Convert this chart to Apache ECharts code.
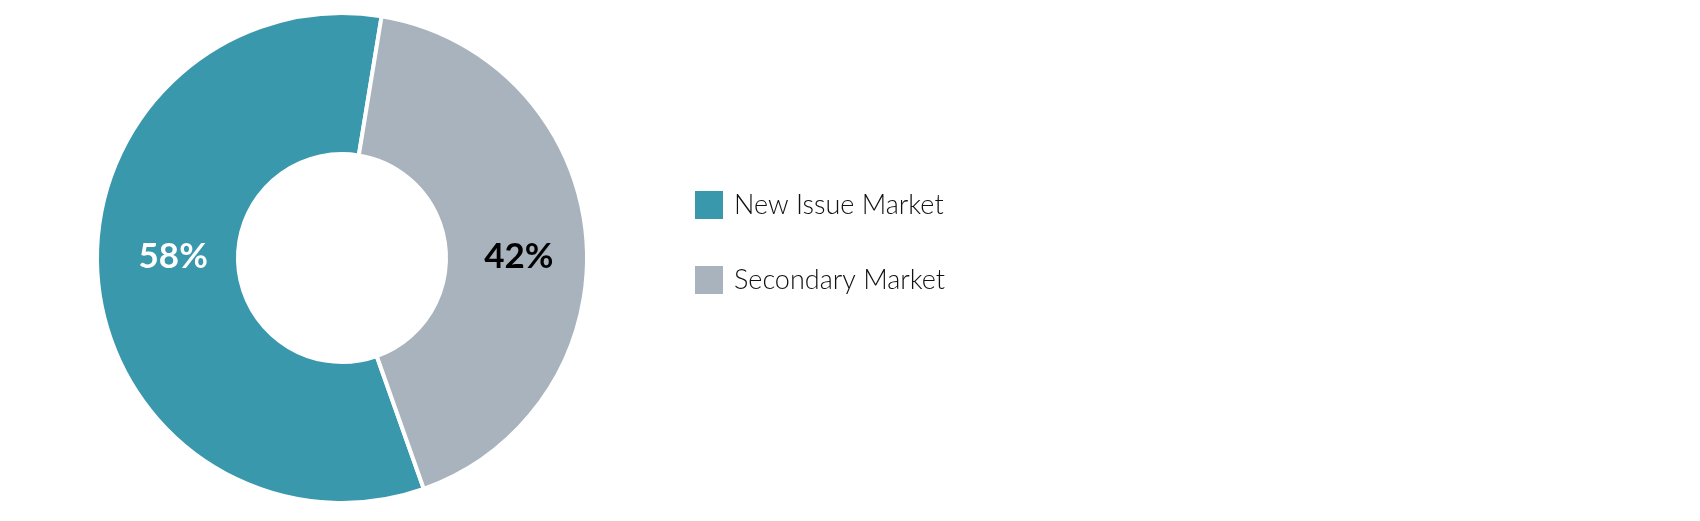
<!DOCTYPE html>
<html>
<head>
<meta charset="utf-8">
<script src="https://cdn.jsdelivr.net/npm/echarts@6/dist/echarts.min.js"></script>
<style>html,body{margin:0;padding:0;background:#fff}#c{width:1700px;height:521px}</style>
</head>
<body>
<div id="c"></div>
<script>
const categories = ['New Issue Market', 'Secondary Market'];
const values = [58, 42];
const colors = ['#3A98AD', '#A9B3BD'];
const labelColors = ['#ffffff', '#000000'];

const CX = 342, CY = 258;
const chart = echarts.init(document.getElementById('c'), null, {renderer: 'canvas'});
chart.setOption({
  animation: false,
  legend: {
    orient: 'vertical',
    left: 695,
    top: 191,
    padding: 0,
    itemWidth: 28,
    itemHeight: 28,
    itemGap: 47,
    icon: 'rect',
    itemStyle: {borderWidth: 0},
    textStyle: {fontFamily: 'Lato', fontWeight: 300, fontSize: 27, color: '#111111', padding: [3, 0, 0, 6]},
    data: categories
  },
  series: [{
    type: 'pie',
    center: [CX, CY],
    radius: [104, 245],
    startAngle: -70.5,
    clockwise: true,
    itemStyle: {borderColor: '#fff', borderWidth: 4},
    label: {
      position: 'inside',
      formatter: '{c}%',
      fontFamily: 'Lato',
      fontWeight: 700,
      fontSize: 35
    },
    labelLayout: function (p) { return {y: CY - 1, dx: p.dataIndex === 0 ? 8 : 0}; },
    emphasis: {disabled: true},
    data: categories.map((n, i) => ({
      name: n, value: values[i],
      itemStyle: {color: colors[i]},
      label: {color: labelColors[i]}
    }))
  }]
});
</script>
</body>
</html>
